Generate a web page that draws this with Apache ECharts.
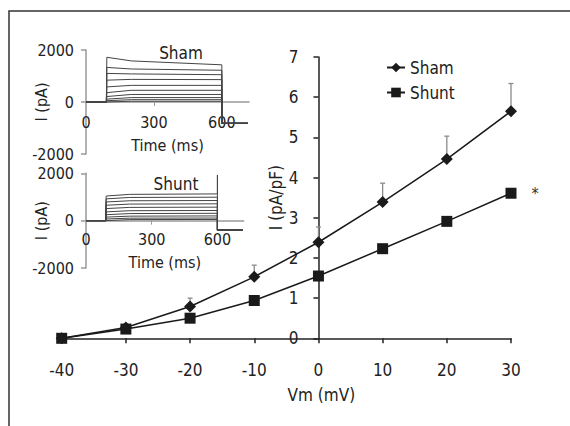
<!DOCTYPE html>
<html><head><meta charset="utf-8">
<script src="https://cdn.jsdelivr.net/npm/echarts@6/dist/echarts.min.js"></script>
<style>html,body{margin:0;padding:0;background:#fff}#c{width:570px;height:426px}</style>
</head><body><div id="c"></div>
<script>
// ---- main I-V data ----
const voltages = [-40, -30, -20, -10, 0, 10, 20, 30];
const shamDensity = [0.0, 0.27, 0.79, 1.53, 2.39, 3.39, 4.46, 5.65];
const shuntDensity = [0.0, 0.23, 0.50, 0.94, 1.55, 2.23, 2.91, 3.61];
const shamErrorTop = [0.0, 0.30, 1.00, 1.82, 2.77, 3.86, 5.03, 6.34];
const seriesNames = ['Sham', 'Shunt'];

// ---- inset current traces (pA) ----
const traceTimePoints = [0, 90, 92, 200, 600, 600, 715];
const shamTraceStart = [1720, 1330, 1100, 840, 580, 360, 210, 110, 50, 15];
const shamTraceMid   = [1580, 1270, 1080, 870, 640, 450, 290, 170, 90, 30];
const shamTraceEnd   = [1430, 1220, 1050, 860, 640, 450, 290, 170, 90, 30];
const shamTail = -820;
const shuntTraceStart = [1040, 920, 790, 650, 510, 370, 250, 150, 70, 20];
const shuntTraceMid   = [1110, 980, 840, 700, 560, 420, 300, 190, 105, 45];
const shuntTraceEnd   = [1130, 990, 850, 710, 570, 430, 310, 200, 110, 50];
const shuntTail = -400;
const shuntOffSpike = 1930;
const insetTimeTicks = [0, 300, 600];

const FONT = "'Liberation Sans Narrow','DejaVu Sans Condensed',Roboto,'Liberation Sans',sans-serif";
const DARK = '#222';
const GRAY = '#999';
const plain = v => String(v);

function tracePoints(start, mid, end, tail, spike) {
  const t = traceTimePoints;
  const pts = [[t[0], 0], [t[1], 0], [t[2], start], [t[3], mid], [t[4], end]];
  if (spike != null) pts.push([t[4], spike]);
  pts.push([t[5], tail], [t[6], tail]);
  return pts;
}

const traceSeries = [];
shamTraceEnd.forEach((v, i) => {
  traceSeries.push({
    type: 'line', name: 'sham-trace-' + i, xAxisIndex: 1, yAxisIndex: 1,
    data: tracePoints(shamTraceStart[i], shamTraceMid[i], v, shamTail, null),
    showSymbol: false, silent: true, animation: false,
    lineStyle: { color: '#444', width: 1 }, z: 2
  });
});
shuntTraceEnd.forEach((v, i) => {
  traceSeries.push({
    type: 'line', name: 'shunt-trace-' + i, xAxisIndex: 2, yAxisIndex: 2,
    data: tracePoints(shuntTraceStart[i], shuntTraceMid[i], v, shuntTail, i === 0 ? shuntOffSpike : null),
    showSymbol: false, silent: true, animation: false,
    lineStyle: { color: '#444', width: 1 }, z: 2
  });
});

const chart = echarts.init(document.getElementById('c'), null, { renderer: 'svg' });

function insetX(gridIndex, labelMargin, nameGap) {
  return {
    gridIndex, type: 'value', min: 0, max: 720, interval: 300, position: 'bottom', offset: 0,
    axisLine: { onZero: false, lineStyle: { color: GRAY, width: 1.5 } },
    axisTick: { show: true, customValues: [300], length: 4, lineStyle: { color: GRAY } },
    axisLabel: { customValues: insetTimeTicks, formatter: plain, margin: labelMargin, fontSize: 16, fontFamily: FONT, color: DARK },
    splitLine: { show: false },
    name: 'Time (ms)', nameLocation: 'middle', nameGap, nameMoveOverlap: false,
    nameTextStyle: { fontSize: 16, fontFamily: FONT, color: DARK }
  };
}
function insetY(gridIndex) {
  return {
    gridIndex, type: 'value', min: -2000, max: 2000, interval: 2000,
    axisLine: { show: true, onZero: false, lineStyle: { color: GRAY, width: 1.5 } },
    axisTick: { show: true, length: 5, lineStyle: { color: GRAY, width: 1.5 } },
    axisLabel: { formatter: plain, margin: 12, fontSize: 16, fontFamily: FONT, color: DARK },
    splitLine: { show: false },
    name: 'I (pA)', nameLocation: 'middle', nameGap: 37, nameMoveOverlap: false,
    nameTextStyle: { fontSize: 16, fontFamily: FONT, color: DARK }
  };
}

const option = {
  backgroundColor: '#fff',
  animation: false,
  textStyle: { fontFamily: FONT },
  grid: [
    { left: 61.7, right: 59, top: 57, bottom: 87.7, outerBoundsMode: 'none' },
    { left: 86, top: 50, width: 163, height: 104, outerBoundsMode: 'none' },
    { left: 86, top: 173.3, width: 157.7, height: 94.7, outerBoundsMode: 'none' }
  ],
  legend: {
    data: seriesNames, orient: 'vertical', left: 386, top: 59,
    itemWidth: 18, itemHeight: 12, itemGap: 8, padding: 0,
    textStyle: { fontSize: 17, fontFamily: FONT, color: DARK }
  },
  xAxis: [
    {
      gridIndex: 0, type: 'value', min: -40, max: 30, interval: 10,
      axisLine: { onZero: false, lineStyle: { color: DARK, width: 1.5 } },
      axisTick: { length: 5, lineStyle: { color: DARK, width: 1.5 } },
      axisLabel: { formatter: plain, margin: 23, fontSize: 17, fontFamily: FONT, color: DARK },
      splitLine: { show: false },
      name: 'Vm (mV)', nameLocation: 'middle', nameGap: 48, nameMoveOverlap: false,
      nameTextStyle: { fontSize: 17, fontFamily: FONT, color: DARK, padding: [0, 0, 0, 70] }
    },
    insetX(1, 12, 35),
    insetX(2, 11, 34)
  ],
  yAxis: [
    {
      gridIndex: 0, type: 'value', min: 0, max: 7, interval: 1, position: 'left', offset: 0,
      axisLine: { show: true, onZero: false, lineStyle: { color: DARK, width: 1.5 } },
      axisTick: { show: true, length: 5, lineStyle: { color: DARK, width: 1.5 } },
      axisLabel: { formatter: plain, margin: 20, fontSize: 17, fontFamily: FONT, color: DARK },
      splitLine: { show: false },
      name: 'I (pA/pF)', nameLocation: 'middle', nameGap: 34, nameMoveOverlap: false,
      nameTextStyle: { fontSize: 17, fontFamily: FONT, color: DARK }
    },
    insetY(1),
    insetY(2)
  ],
  graphic: [
    { type: 'rect', silent: true, shape: { x: 9, y: 11, width: 800, height: 700 },
      style: { fill: 'none', stroke: '#333', lineWidth: 1.5 } },
    { type: 'text', silent: true, x: 181, y: 53,
      style: { text: 'Sham', align: 'center', verticalAlign: 'middle', fontSize: 17, fontFamily: FONT, fill: DARK } },
    { type: 'text', silent: true, x: 176, y: 184,
      style: { text: 'Shunt', align: 'center', verticalAlign: 'middle', fontSize: 17, fontFamily: FONT, fill: DARK } }
  ],
  series: traceSeries.concat([
    {
      type: 'custom', name: 'Sham SEM', xAxisIndex: 0, yAxisIndex: 0, silent: true, z: 1,
      data: voltages.map((v, i) => [v, shamDensity[i], shamErrorTop[i]]).filter(d => d[2] > d[1]),
      encode: { x: 0, y: [1, 2] },
      renderItem: function (params, api) {
        const p0 = api.coord([api.value(0), api.value(1)]);
        const p1 = api.coord([api.value(0), api.value(2)]);
        const st = { stroke: '#8a8a8a', lineWidth: 1.3 };
        return { type: 'group', children: [
          { type: 'line', shape: { x1: p0[0], y1: p0[1], x2: p1[0], y2: p1[1] }, style: st },
          { type: 'line', shape: { x1: p1[0] - 2.5, y1: p1[1], x2: p1[0] + 2.5, y2: p1[1] }, style: st }
        ] };
      }
    },
    {
      type: 'line', name: seriesNames[0], xAxisIndex: 0, yAxisIndex: 0, z: 3,
      data: voltages.map((v, i) => [v, shamDensity[i]]),
      symbol: 'diamond', symbolSize: 12, showAllSymbol: true,
      lineStyle: { color: '#1a1a1a', width: 1.5 }, itemStyle: { color: '#1a1a1a' }
    },
    {
      type: 'line', name: seriesNames[1], xAxisIndex: 0, yAxisIndex: 0, z: 3,
      data: voltages.map((v, i) => i === voltages.length - 1
        ? { value: [v, shuntDensity[i]], label: { show: true, formatter: '*', position: 'right', distance: 15, fontSize: 16, fontFamily: FONT, color: '#333' } }
        : [v, shuntDensity[i]]),
      symbol: 'rect', symbolSize: 11, showAllSymbol: true,
      lineStyle: { color: '#1a1a1a', width: 1.5 }, itemStyle: { color: '#1a1a1a' }
    }
  ])
};
chart.setOption(option);

// Place the main y axis on Vm = 0 and the inset time axes on I = 0 (axis offsets from the scales).
const mainZeroX = chart.convertToPixel({ xAxisIndex: 0 }, 0);
const mainLeftX = chart.convertToPixel({ xAxisIndex: 0 }, voltages[0]);
const insetOffsets = [1, 2].map(idx => {
  const zeroY = chart.convertToPixel({ yAxisIndex: idx }, 0);
  const bottomY = chart.convertToPixel({ yAxisIndex: idx }, -2000);
  return -(bottomY - zeroY);
});
chart.setOption({
  yAxis: [{ offset: -(mainZeroX - mainLeftX) }, {}, {}],
  xAxis: [{}, { offset: insetOffsets[0] }, { offset: insetOffsets[1] }]
});
</script></body></html>
